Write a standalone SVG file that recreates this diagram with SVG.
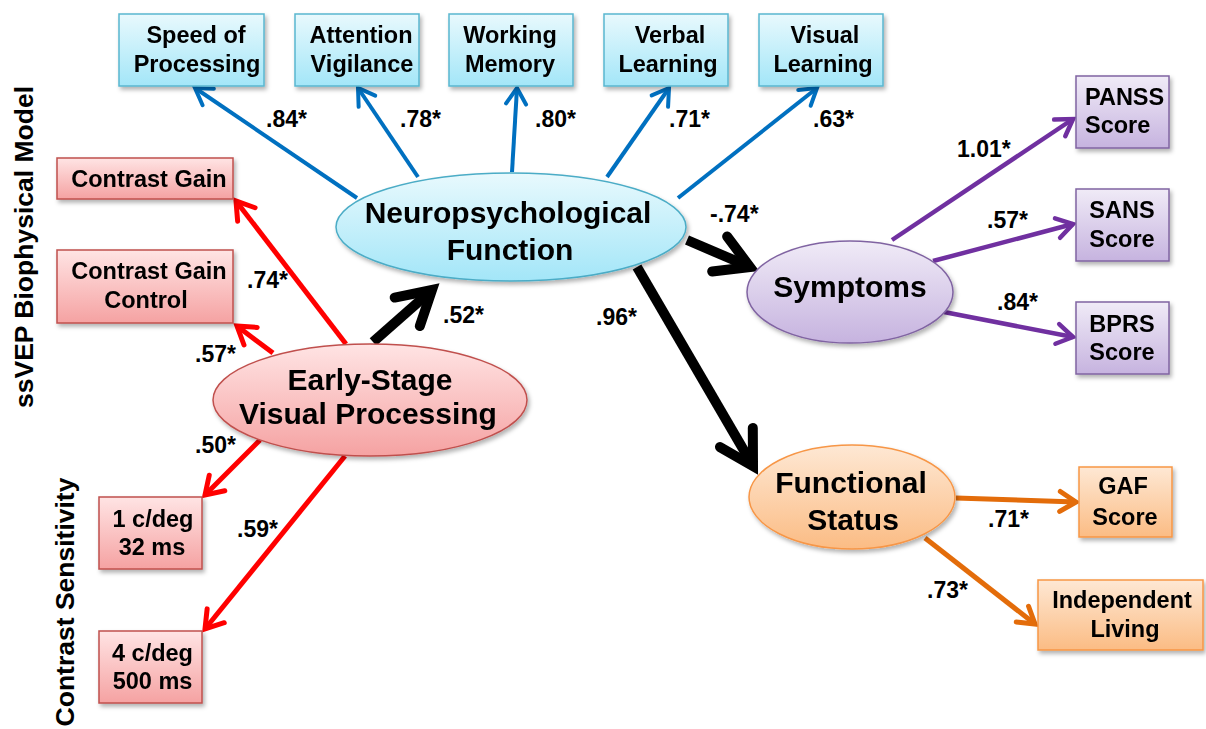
<svg xmlns="http://www.w3.org/2000/svg" width="1206" height="729" viewBox="0 0 1206 729">
  <defs>
    <style>
      text { font-family: "Liberation Sans", Arial, sans-serif; font-weight: bold; fill: #000; }
      .bt { font-size: 23.5px; text-anchor: middle; }
      .et { font-size: 30px; text-anchor: middle; }
      .lb { font-size: 23px; }
      .side { font-size: 26.5px; text-anchor: middle; }
      .blueBox { fill: url(#gBlue); stroke: #5ab6cf; stroke-width: 1.5; }
      .redBox { fill: url(#gRed); stroke: #c0504d; stroke-width: 1.5; }
      .purBox { fill: url(#gPur); stroke: #8064a2; stroke-width: 1.5; }
      .orBox { fill: url(#gOr); stroke: #f79646; stroke-width: 1.5; }
      .node { filter: url(#shadow); }
      .cb { stroke: #0070c0; stroke-width: 4; fill: none; }
      .cr { stroke: #ff0000; stroke-width: 5; fill: none; }
      .cp { stroke: #7030a0; stroke-width: 4.5; fill: none; }
      .co { stroke: #e36c0a; stroke-width: 5; fill: none; }
      .ck { stroke: #000; stroke-width: 10; fill: none; }
    </style>
    <linearGradient id="gBlue" x1="0" y1="0" x2="0" y2="1">
      <stop offset="0" stop-color="#e8f9fd"/>
      <stop offset="1" stop-color="#a3e6f8"/>
    </linearGradient>
    <linearGradient id="gRed" x1="0" y1="0" x2="0" y2="1">
      <stop offset="0" stop-color="#ffe4e4"/>
      <stop offset="1" stop-color="#f5a2a2"/>
    </linearGradient>
    <linearGradient id="gPur" x1="0" y1="0" x2="0" y2="1">
      <stop offset="0" stop-color="#f0ebf7"/>
      <stop offset="1" stop-color="#c6b3df"/>
    </linearGradient>
    <linearGradient id="gOr" x1="0" y1="0" x2="0" y2="1">
      <stop offset="0" stop-color="#fee8d4"/>
      <stop offset="1" stop-color="#fbbc84"/>
    </linearGradient>
    <filter id="shadow" x="-10%" y="-10%" width="125%" height="130%">
      <feDropShadow dx="2" dy="3" stdDeviation="2" flood-color="#000" flood-opacity="0.3"/>
    </filter>
    <marker id="mBlue" markerUnits="userSpaceOnUse" orient="auto" overflow="visible" markerWidth="1" markerHeight="1">
      <path d="M-16,-10 L0,0 L-16,10" fill="none" stroke="#0070c0" stroke-width="4" stroke-linecap="round" stroke-linejoin="miter"/>
    </marker>
    <marker id="mRed" markerUnits="userSpaceOnUse" orient="auto" overflow="visible" markerWidth="1" markerHeight="1">
      <path d="M-17,-11 L0,0 L-17,11" fill="none" stroke="#ff0000" stroke-width="5" stroke-linecap="round" stroke-linejoin="miter"/>
    </marker>
    <marker id="mPur" markerUnits="userSpaceOnUse" orient="auto" overflow="visible" markerWidth="1" markerHeight="1">
      <path d="M-16,-10 L0,0 L-16,10" fill="none" stroke="#7030a0" stroke-width="4.5" stroke-linecap="round" stroke-linejoin="miter"/>
    </marker>
    <marker id="mOr" markerUnits="userSpaceOnUse" orient="auto" overflow="visible" markerWidth="1" markerHeight="1">
      <path d="M-16,-10 L0,0 L-16,10" fill="none" stroke="#e36c0a" stroke-width="5" stroke-linecap="round" stroke-linejoin="miter"/>
    </marker>
    <marker id="mBlack" markerUnits="userSpaceOnUse" orient="auto" overflow="visible" markerWidth="1" markerHeight="1">
      <path d="M-33,-19 L0,0 L-33,19" fill="none" stroke="#000" stroke-width="10" stroke-linecap="round" stroke-linejoin="miter"/>
    </marker>
  </defs>

  <rect width="1206" height="729" fill="#fff"/>

  <!-- side captions -->
  <text class="side" transform="translate(33,247) rotate(-90)">ssVEP Biophysical Model</text>
  <text class="side" transform="translate(74,602) rotate(-90)">Contrast Sensitivity</text>

  <!-- connectors -->
  <g id="connectors">
    <!-- neuropsychological indicators -->
    <line class="cb" x1="357" y1="198" x2="195" y2="88" marker-end="url(#mBlue)"/>
    <line class="cb" x1="418" y1="177" x2="358" y2="88" marker-end="url(#mBlue)"/>
    <line class="cb" x1="512" y1="172" x2="517" y2="88" marker-end="url(#mBlue)"/>
    <line class="cb" x1="607" y1="177" x2="669" y2="88" marker-end="url(#mBlue)"/>
    <line class="cb" x1="678" y1="198" x2="817" y2="88" marker-end="url(#mBlue)"/>
    <!-- early-stage visual indicators -->
    <line class="cr" x1="346" y1="344" x2="236" y2="201" marker-end="url(#mRed)"/>
    <line class="cr" x1="273" y1="353" x2="237" y2="326" marker-end="url(#mRed)"/>
    <line class="cr" x1="260" y1="440" x2="205" y2="495" marker-end="url(#mRed)"/>
    <line class="cr" x1="345" y1="456" x2="205" y2="629" marker-end="url(#mRed)"/>
    <!-- structural paths -->
    <line class="ck" x1="373" y1="342" x2="432" y2="290" marker-end="url(#mBlack)"/>
    <line class="ck" x1="687" y1="240" x2="750" y2="267" marker-end="url(#mBlack)"/>
    <line class="ck" x1="637" y1="267" x2="753" y2="466" marker-end="url(#mBlack)"/>
    <!-- symptom indicators -->
    <line class="cp" x1="892" y1="240" x2="1073" y2="119" marker-end="url(#mPur)"/>
    <line class="cp" x1="933" y1="261" x2="1073" y2="224" marker-end="url(#mPur)"/>
    <line class="cp" x1="944" y1="312" x2="1073" y2="337" marker-end="url(#mPur)"/>
    <!-- functional indicators -->
    <line class="co" x1="956" y1="498" x2="1076" y2="502" marker-end="url(#mOr)"/>
    <line class="co" x1="925" y1="538" x2="1035" y2="624" marker-end="url(#mOr)"/>

    <!-- path coefficients -->
    <text class="lb" x="266" y="127">.84*</text>
    <text class="lb" x="400" y="127">.78*</text>
    <text class="lb" x="535" y="127">.80*</text>
    <text class="lb" x="669" y="127">.71*</text>
    <text class="lb" x="813" y="127">.63*</text>
    <text class="lb" x="247" y="288">.74*</text>
    <text class="lb" x="195" y="362">.57*</text>
    <text class="lb" x="195" y="453">.50*</text>
    <text class="lb" x="237" y="537">.59*</text>
    <text class="lb" x="710" y="222">-.74*</text>
    <text class="lb" x="443" y="323">.52*</text>
    <text class="lb" x="596" y="325">.96*</text>
    <text class="lb" x="957" y="157">1.01*</text>
    <text class="lb" x="987" y="228">.57*</text>
    <text class="lb" x="997" y="310">.84*</text>
    <text class="lb" x="988" y="527">.71*</text>
    <text class="lb" x="927" y="598">.73*</text>
  </g>

  <!-- latent factors -->
  <g id="neuro" class="node">
    <ellipse cx="511" cy="227" rx="175" ry="54" fill="url(#gBlue)" stroke="#4bacc6" stroke-width="1.5"/>
    <text class="et" x="508" y="223">Neuropsychological</text>
    <text class="et" x="510" y="260">Function</text>
  </g>
  <g id="early" class="node">
    <ellipse cx="370" cy="400" rx="157" ry="56" fill="url(#gRed)" stroke="#c0504d" stroke-width="1.5"/>
    <text class="et" x="370" y="390">Early-Stage</text>
    <text class="et" x="368" y="424">Visual Processing</text>
  </g>
  <g id="symptoms" class="node">
    <ellipse cx="850" cy="292" rx="103" ry="51" fill="url(#gPur)" stroke="#8064a2" stroke-width="1.5"/>
    <text class="et" x="850" y="297">Symptoms</text>
  </g>
  <g id="functional" class="node">
    <ellipse cx="852" cy="497" rx="103" ry="52" fill="url(#gOr)" stroke="#f79646" stroke-width="1.5"/>
    <text class="et" x="851" y="493">Functional</text>
    <text class="et" x="853" y="530">Status</text>
  </g>

  <!-- neuropsychological indicators -->
  <g id="speed" class="node">
    <rect class="blueBox" x="119" y="14" width="145" height="72"/>
    <text class="bt" x="196" y="43">Speed of</text>
    <text class="bt" x="197" y="72">Processing</text>
  </g>
  <g id="attention" class="node">
    <rect class="blueBox" x="295" y="14" width="124" height="72"/>
    <text class="bt" x="361" y="43">Attention</text>
    <text class="bt" x="362" y="72">Vigilance</text>
  </g>
  <g id="working" class="node">
    <rect class="blueBox" x="449" y="14" width="124" height="72"/>
    <text class="bt" x="510" y="43">Working</text>
    <text class="bt" x="510" y="72">Memory</text>
  </g>
  <g id="verbal" class="node">
    <rect class="blueBox" x="604" y="14" width="124" height="72"/>
    <text class="bt" x="670" y="43">Verbal</text>
    <text class="bt" x="668" y="72">Learning</text>
  </g>
  <g id="visual" class="node">
    <rect class="blueBox" x="759" y="14" width="124" height="72"/>
    <text class="bt" x="825" y="43">Visual</text>
    <text class="bt" x="823" y="72">Learning</text>
  </g>

  <!-- early-stage visual indicators -->
  <g id="cgain" class="node">
    <rect class="redBox" x="57" y="158" width="176" height="41"/>
    <text class="bt" x="149" y="187">Contrast Gain</text>
  </g>
  <g id="cgc" class="node">
    <rect class="redBox" x="57" y="250" width="176" height="73"/>
    <text class="bt" x="149" y="279">Contrast Gain</text>
    <text class="bt" x="146" y="308">Control</text>
  </g>
  <g id="cs1" class="node">
    <rect class="redBox" x="99" y="497" width="103" height="72"/>
    <text class="bt" x="153" y="527">1 c/deg</text>
    <text class="bt" x="152" y="555">32 ms</text>
  </g>
  <g id="cs4" class="node">
    <rect class="redBox" x="99" y="631" width="103" height="72"/>
    <text class="bt" x="152.5" y="661">4 c/deg</text>
    <text class="bt" x="152.5" y="689">500 ms</text>
  </g>

  <!-- symptom indicators -->
  <g id="panss" class="node">
    <rect class="purBox" x="1076" y="76" width="93" height="72"/>
    <text class="bt" x="1085" y="105" style="text-anchor:start">PANSS</text>
    <text class="bt" x="1085" y="133" style="text-anchor:start">Score</text>
  </g>
  <g id="sans" class="node">
    <rect class="purBox" x="1076" y="189" width="93" height="72"/>
    <text class="bt" x="1122" y="218">SANS</text>
    <text class="bt" x="1122" y="247">Score</text>
  </g>
  <g id="bprs" class="node">
    <rect class="purBox" x="1076" y="302" width="93" height="72"/>
    <text class="bt" x="1122" y="332">BPRS</text>
    <text class="bt" x="1122" y="360">Score</text>
  </g>

  <!-- functional indicators -->
  <g id="gaf" class="node">
    <rect class="orBox" x="1079" y="467" width="93" height="70"/>
    <text class="bt" x="1123" y="494">GAF</text>
    <text class="bt" x="1125" y="525">Score</text>
  </g>
  <g id="living" class="node">
    <rect class="orBox" x="1038" y="580" width="165" height="70"/>
    <text class="bt" x="1122" y="608">Independent</text>
    <text class="bt" x="1125" y="637">Living</text>
  </g>
</svg>
